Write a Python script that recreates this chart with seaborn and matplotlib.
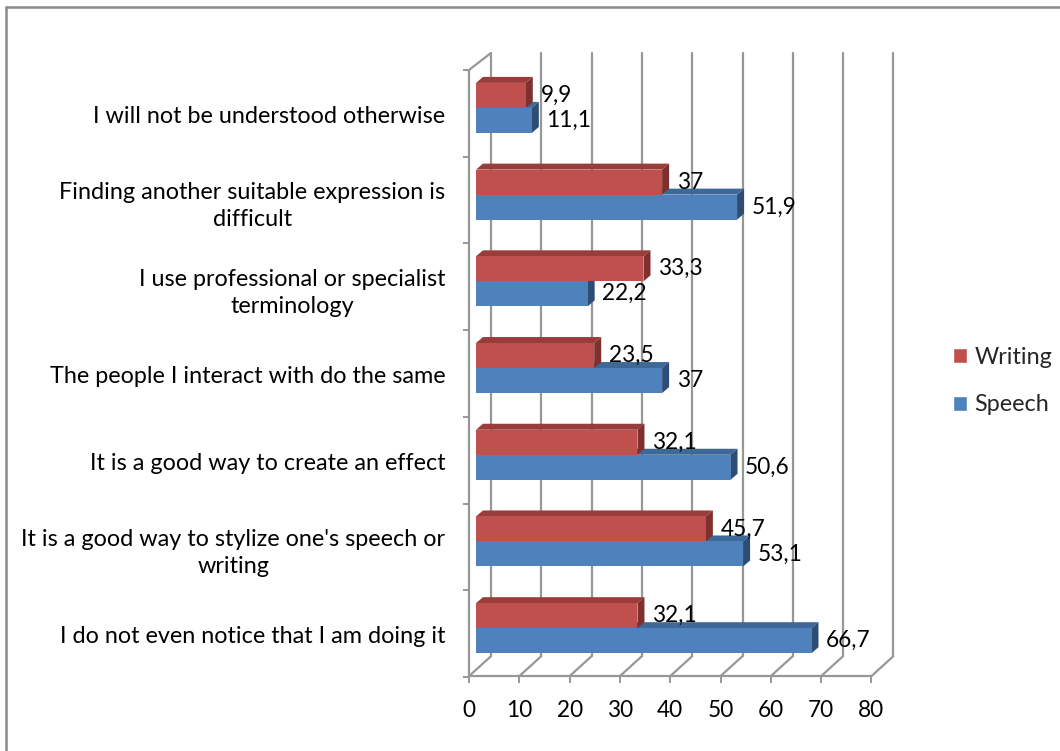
import matplotlib
matplotlib.use("Agg")
import matplotlib.pyplot as plt
import seaborn as sns
import pandas as pd
import numpy as np
from matplotlib.patches import Polygon, Patch
from matplotlib.lines import Line2D

# ---------------- data ----------------
categories = [
    "I will not be understood otherwise",
    "Finding another suitable expression is\ndifficult",
    "I use professional or specialist\nterminology",
    "The people I interact with do the same",
    "It is a good way to create an effect",
    "It is a good way to stylize one's speech or\nwriting",
    "I do not even notice that I am doing it",
]
writing = [9.9, 37, 33.3, 23.5, 32.1, 45.7, 32.1]
speech = [11.1, 51.9, 22.2, 37, 50.6, 53.1, 66.7]
series = ["Writing", "Speech"]
tick_values = [0, 10, 20, 30, 40, 50, 60, 70, 80]

# ---------------- styles ----------------
RED, RED_TOP, RED_SIDE = "#C0504D", "#9A3D3A", "#7F302E"
BLUE, BLUE_TOP, BLUE_SIDE = "#4F81BD", "#3E6898", "#2E4D75"
GRID = "#979797"
FS = 16.8
FS_NUM = 16.3

sns.set_theme(style="white")
plt.rcParams["font.family"] = ["Lato", "DejaVu Sans"]

W, H = 1060, 751
fig = plt.figure(figsize=(W / 100, H / 100), dpi=100)

# pixel -> data mapping helpers (layout only)
X0, SX = 476.0, 5.03
Y0, SY = 108.0, 86.83


def dxp(px):
    return (px - X0) / SX


def dyp(py):
    return (py - Y0) / SY


AX_L, AX_R, AX_T, AX_B = 469, 905, 40, 677
ax = fig.add_axes([AX_L / W, 1 - AX_B / H, (AX_R - AX_L) / W, (AX_B - AX_T) / H])
ax.patch.set_alpha(0)

df = pd.DataFrame({
    "category": categories * 2,
    "series": ["Writing"] * len(categories) + ["Speech"] * len(categories),
    "value": writing + speech,
})
sns.barplot(data=df, x="value", y="category", hue="series", hue_order=series,
            palette=[RED, BLUE], orient="h", width=0.577, saturation=1,
            legend=False, ax=ax, linewidth=0)

ax.set_xlim(dxp(AX_L), dxp(AX_R))
ax.set_ylim(dyp(AX_B), dyp(AX_T))
for s in ax.spines.values():
    s.set_visible(False)
ax.set_xlabel("")
ax.set_ylabel("")

# 3D depth offsets (in data units)
DDX = 7 / SX
DDY = 6 / SY

fx = dxp(469)  # front wall offset
bx = dxp(491)  # back wall offset
y_top_front, y_top_back = dyp(70), dyp(53)
y_floor_front, y_floor_back = dyp(677), dyp(657)

# grid: back wall verticals and floor diagonals
for v in tick_values:
    ax.plot([v + bx, v + bx], [y_top_back, y_floor_back], color=GRID, lw=1.6, zorder=1, clip_on=False)
    ax.plot([v + fx, v + bx], [y_floor_front, y_floor_back], color=GRID, lw=1.6, zorder=1, clip_on=False)
ax.plot([fx, tick_values[-1] + fx], [y_floor_front, y_floor_front], color=GRID, lw=1.6, zorder=1, clip_on=False)
ax.plot([fx, fx], [y_top_front, y_floor_front], color=GRID, lw=1.6, zorder=1, clip_on=False)
ax.plot([fx, bx], [y_top_front, y_top_back], color=GRID, lw=1.6, zorder=1, clip_on=False)

# bars: add 3D faces
n = len(categories)
patches = list(ax.patches)
red_patches = patches[:n]
blue_patches = patches[n:]
for group, top_c, side_c, z in [(blue_patches, BLUE_TOP, BLUE_SIDE, 3), (red_patches, RED_TOP, RED_SIDE, 5)]:
    for p in group:
        x0, y0 = p.get_x(), p.get_y()
        w, h = p.get_width(), p.get_height()
        top = Polygon([(x0, y0), (x0 + DDX, y0 - DDY), (x0 + w + DDX, y0 - DDY), (x0 + w, y0)],
                      closed=True, facecolor=top_c, edgecolor="none", zorder=z)
        side = Polygon([(x0 + w, y0), (x0 + w + DDX, y0 - DDY), (x0 + w + DDX, y0 + h - DDY), (x0 + w, y0 + h)],
                       closed=True, facecolor=side_c, edgecolor="none", zorder=z)
        ax.add_patch(top)
        ax.add_patch(side)
        p.set_zorder(z + 0.5)

# data labels
for group, vals in [(red_patches, writing), (blue_patches, speech)]:
    for p, v in zip(group, vals):
        ax.annotate(f"{v:g}".replace(".", ","), (p.get_x() + p.get_width(), p.get_y() + p.get_height() / 2),
                    xytext=(10.5, 0), textcoords="offset points", ha="left", va="center",
                    fontsize=FS_NUM, color="black", zorder=10)

# x ticks on front edge
ax.set_xticks(np.array(tick_values) + fx)
ax.set_xticklabels([str(v) for v in tick_values], fontsize=FS_NUM, color="black")
ax.tick_params(axis="x", which="major", direction="out", length=4.3, width=1.4, color=GRID, pad=12,
               bottom=True)

# y ticks: labels at category centres, marks at boundaries
centers = np.arange(n) + 0.075
ax.set_yticks(centers)
ax.set_yticklabels(categories, fontsize=FS, color="black")
for t in ax.get_yticklabels():
    t.set_multialignment("center")
    t.set_linespacing(1.36)
ax.set_yticks(np.arange(n + 1) - 0.5 + 0.063, minor=True)
ax.tick_params(axis="y", which="major", length=0, pad=17)
ax.tick_params(axis="y", which="minor", direction="out", length=4.3, width=1.4, color=GRID, left=True)

# legend
handles = [Patch(facecolor=RED, label="Writing"), Patch(facecolor=BLUE, label="Speech")]
fig.legend(handles=handles, loc="center left", bbox_to_anchor=(944 / W, 1 - 381 / H), frameon=False,
           handlelength=0.6, handleheight=0.6, handletextpad=0.3, labelspacing=1.15, fontsize=FS,
           borderaxespad=0)

# chart border (top and left visible)
fig.add_artist(Line2D([6 / W, 1], [1 - 7 / H, 1 - 7 / H], color="#8a8a8a", lw=1.8))
fig.add_artist(Line2D([6 / W, 6 / W], [0, 1 - 7 / H], color="#8a8a8a", lw=1.8))

fig.savefig("out.png", dpi=100)
